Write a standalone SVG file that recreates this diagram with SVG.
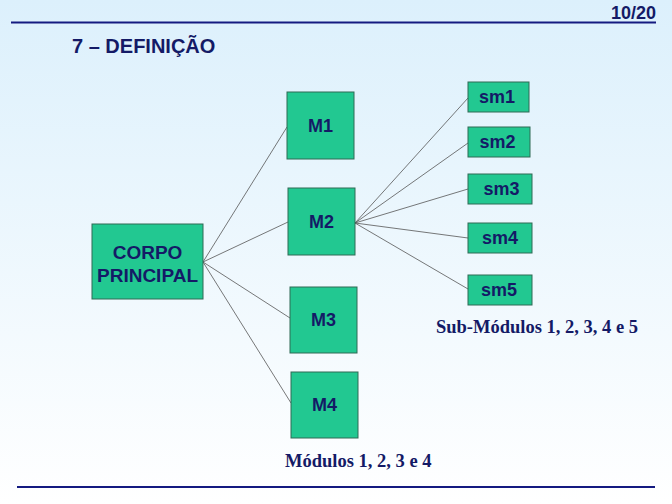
<svg xmlns="http://www.w3.org/2000/svg" width="672" height="504" viewBox="0 0 672 504">
<defs>
<linearGradient id="bg" x1="0" y1="0" x2="0" y2="1">
<stop offset="0" stop-color="#dcf0fc"/>
<stop offset="1" stop-color="#ffffff"/>
</linearGradient>
<style>
.box{fill:#22c891;stroke:#2f6a55;stroke-width:1}
.lbl{font-family:"Liberation Sans",Arial,sans-serif;font-weight:bold;fill:#141a66;text-anchor:middle}
.cap{font-family:"Liberation Serif","Times New Roman",serif;font-weight:bold;fill:#141a66;font-size:18.5px}
.conn line{stroke:#555;stroke-width:0.8}
</style>
</defs>
<rect width="672" height="504" fill="url(#bg)"/>
<line x1="11" y1="22.5" x2="656" y2="22.5" stroke="#141a80" stroke-width="2"/>
<text x="656" y="19" font-family="'Liberation Sans',Arial,sans-serif" font-weight="bold" font-size="18" fill="#141a66" text-anchor="end">10/20</text>
<text x="72" y="53" font-family="'Liberation Sans',Arial,sans-serif" font-weight="bold" font-size="20" fill="#141a66">7 – DEFINIÇÃO</text>
<line x1="17" y1="487" x2="655" y2="487" stroke="#141a80" stroke-width="2"/>
<g class="conn">
<line x1="203" y1="262" x2="287" y2="127"/>
<line x1="203" y1="262" x2="288" y2="222"/>
<line x1="203" y1="262" x2="290" y2="318"/>
<line x1="203" y1="262" x2="291" y2="403"/>
<line x1="355" y1="223" x2="468" y2="98"/>
<line x1="355" y1="223" x2="468" y2="143"/>
<line x1="355" y1="223" x2="468" y2="189"/>
<line x1="355" y1="223" x2="468" y2="238"/>
<line x1="355" y1="223" x2="468" y2="289"/>
</g>
<g id="corpo"><rect class="box" x="92" y="224" width="111" height="75"/>
<text class="lbl" x="147.5" y="259" font-size="19">CORPO</text>
<text class="lbl" x="147.5" y="282" font-size="19">PRINCIPAL</text></g>
<g id="m1"><rect class="box" x="287" y="92" width="67" height="67"/><text class="lbl" x="320.5" y="132" font-size="18">M1</text></g>
<g id="m2"><rect class="box" x="288" y="188" width="67" height="67"/><text class="lbl" x="321.5" y="228" font-size="18">M2</text></g>
<g id="m3"><rect class="box" x="290" y="287" width="67" height="66"/><text class="lbl" x="323.5" y="326" font-size="18">M3</text></g>
<g id="m4"><rect class="box" x="291" y="372" width="67" height="66"/><text class="lbl" x="324.5" y="411" font-size="18">M4</text></g>
<g id="sm1"><rect class="box" x="468" y="82" width="61" height="30"/><text class="lbl" x="497" y="103" font-size="18">sm1</text></g>
<g id="sm2"><rect class="box" x="468" y="127" width="62" height="30"/><text class="lbl" x="497.5" y="148" font-size="18">sm2</text></g>
<g id="sm3"><rect class="box" x="468" y="174" width="64" height="30"/><text class="lbl" x="501.5" y="195" font-size="18">sm3</text></g>
<g id="sm4"><rect class="box" x="468" y="223" width="64" height="30"/><text class="lbl" x="500" y="244" font-size="18">sm4</text></g>
<g id="sm5"><rect class="box" x="468" y="275" width="64" height="30"/><text class="lbl" x="499" y="296" font-size="18">sm5</text></g>
<text class="cap" x="436" y="333">Sub-Módulos 1, 2, 3, 4 e 5</text>
<text class="cap" x="285" y="467">Módulos 1, 2, 3 e 4</text>
</svg>
